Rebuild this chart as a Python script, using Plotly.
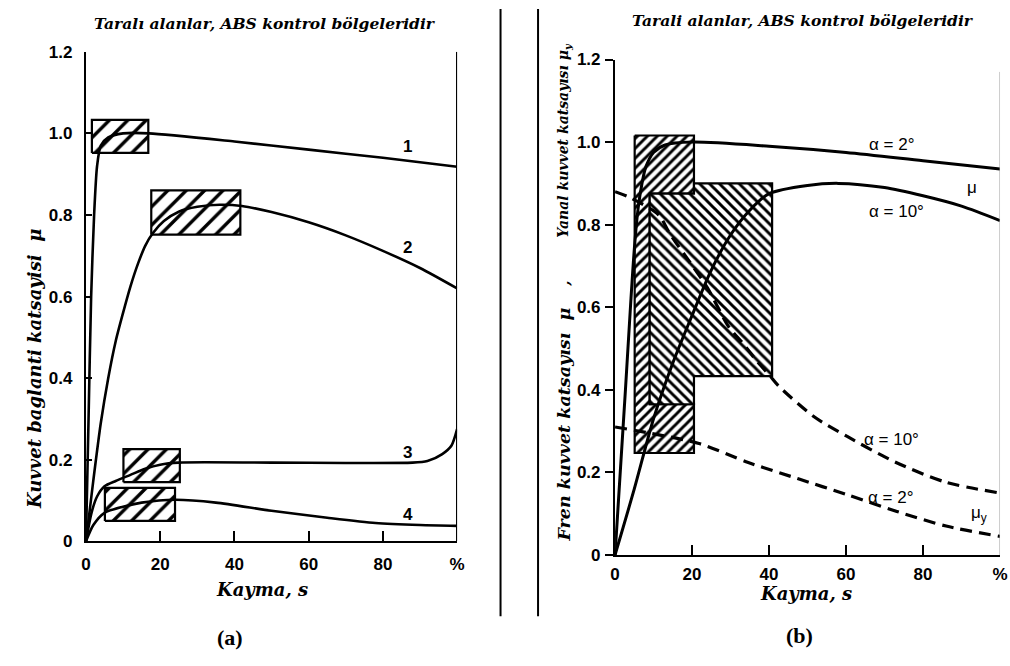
import plotly.graph_objects as go

W, H = 1010, 666

# ---------------- data: panel (a) ----------------
s_c1 = [0, 0.7, 1.4, 2.2, 3, 4, 6, 10, 17, 40, 60, 80, 100]
mu_c1 = [0, 0.30, 0.60, 0.80, 0.92, 0.97, 0.99, 1.0, 1.0, 0.98, 0.96, 0.94, 0.918]
s_c2 = [0, 2, 4, 6, 8, 10, 12, 14, 16, 18, 21, 25, 30, 36, 42, 50, 60, 70, 80, 90, 100]
mu_c2 = [0, 0.15, 0.29, 0.40, 0.49, 0.56, 0.625, 0.68, 0.725, 0.755, 0.785, 0.808, 0.82,
         0.825, 0.822, 0.807, 0.782, 0.75, 0.712, 0.67, 0.62]
s_c3 = [0, 1.5, 3, 5, 8, 12, 16, 20, 25, 50, 88, 92, 96, 98.5, 100]
mu_c3 = [0, 0.07, 0.11, 0.135, 0.148, 0.163, 0.178, 0.188, 0.193, 0.193, 0.193, 0.197, 0.214,
         0.235, 0.275]
s_c4 = [0, 2, 5, 10, 15, 24, 35, 50, 65, 78, 90, 100]
mu_c4 = [0, 0.04, 0.07, 0.085, 0.095, 0.102, 0.095, 0.075, 0.058, 0.045, 0.04, 0.038]
curve_labels_a = ["1", "2", "3", "4"]
label_s_a = [86.7, 86.7, 86.7, 86.7]
label_mu_a = [0.967, 0.721, 0.217, 0.067]

# ABS boxes (a): slip from/to, mu from/to
box_s0 = [1.6, 17.6, 10.1, 5.1]
box_s1 = [16.8, 41.6, 25.3, 24.0]
box_m0 = [0.952, 0.752, 0.145, 0.05]
box_m1 = [1.033, 0.86, 0.226, 0.131]

# ---------------- data: panel (b) ----------------
s_mu2 = [0, 2.7, 4, 5, 6, 7, 8, 10, 13, 20, 40, 60, 80, 100]
mu_mu2 = [0, 0.40, 0.60, 0.74, 0.84, 0.90, 0.94, 0.975, 0.993, 1.0, 0.99, 0.975, 0.955, 0.935]
s_mu10 = [0, 5, 10, 15, 20, 25, 30, 35, 40, 50, 58, 70, 80, 90, 100]
mu_mu10 = [0, 0.16, 0.33, 0.465, 0.58, 0.69, 0.775, 0.835, 0.875, 0.895, 0.9, 0.89, 0.87,
           0.845, 0.81]
s_y10 = [0, 4, 11.3, 14.1, 20.5, 24, 29.5, 33, 37, 40.3, 42.4, 51.8, 60.3, 73, 86, 100]
mu_y10 = [0.88, 0.865, 0.824, 0.78, 0.695, 0.647, 0.553, 0.515, 0.468, 0.433, 0.41, 0.334,
          0.287, 0.224, 0.176, 0.15]
s_y2 = [0, 9, 21.8, 34.6, 47.4, 60.3, 73, 86, 100]
mu_y2 = [0.31, 0.295, 0.27, 0.224, 0.185, 0.146, 0.106, 0.07, 0.045]

# ABS regions (b)
reg1_s = [5.1, 20.5, 20.5, 9, 9, 20.5, 20.5, 5.1, 5.1]
reg1_mu = [1.016, 1.016, 0.875, 0.875, 0.365, 0.365, 0.247, 0.247, 1.016]
reg2_s = [9, 20.5, 20.5, 40.8, 40.8, 20.5, 20.5, 9, 9]
reg2_mu = [0.875, 0.875, 0.9, 0.9, 0.433, 0.433, 0.365, 0.365, 0.875]

labels_b = ["α = 2°", "μ", "α = 10°", "α = 10°", "α = 2°", "μ<sub>y</sub>"]
label_s_b = [71.8, 92.8, 73, 71.8, 71.5, 94.6]
label_mu_b = [0.995, 0.89, 0.833, 0.28, 0.139, 0.099]

x_ticks = [0, 20, 40, 60, 80, 100]
x_ticktext = ["0", "20", "40", "60", "80", "%"]
y_ticks = [0, 0.2, 0.4, 0.6, 0.8, 1.0, 1.2]
y_ticktext = ["0", "0.2", "0.4", "0.6", "0.8", "1.0", "1.2"]


def PX(x):
    return x / W


def PY(y):
    return 1 - y / H


fig = go.Figure()

# hatched boxes, panel (a)
for a0, a1, m0, m1 in zip(box_s0, box_s1, box_m0, box_m1):
    fig.add_trace(go.Scatter(
        x=[a0, a1, a1, a0, a0], y=[m0, m0, m1, m1, m0],
        mode="lines", fill="toself", fillcolor="white",
        fillpattern=dict(shape="/", fgcolor="black", bgcolor="white", size=13,
                         solidity=0.26, fgopacity=1),
        line=dict(color="black", width=2.2), xaxis="x", yaxis="y",
        showlegend=False, hoverinfo="skip"))

# curves, panel (a)
for sx, my in [(s_c1, mu_c1), (s_c2, mu_c2), (s_c3, mu_c3), (s_c4, mu_c4)]:
    fig.add_trace(go.Scatter(x=sx, y=my, mode="lines",
                             line=dict(color="black", width=2.6, shape="spline", smoothing=0.7),
                             xaxis="x", yaxis="y", showlegend=False))

# hatched regions, panel (b)
fig.add_trace(go.Scatter(
    x=reg1_s, y=reg1_mu, mode="lines", fill="toself", fillcolor="white",
    fillpattern=dict(shape="/", fgcolor="black", bgcolor="white", size=7, solidity=0.42,
                     fgopacity=1),
    line=dict(color="black", width=2.2), xaxis="x2", yaxis="y2",
    showlegend=False, hoverinfo="skip"))
fig.add_trace(go.Scatter(
    x=reg2_s, y=reg2_mu, mode="lines", fill="toself", fillcolor="white",
    fillpattern=dict(shape="\\", fgcolor="black", bgcolor="white", size=7, solidity=0.42,
                     fgopacity=1),
    line=dict(color="black", width=2.2), xaxis="x2", yaxis="y2",
    showlegend=False, hoverinfo="skip"))

for sx, my in [(s_mu2, mu_mu2), (s_mu10, mu_mu10)]:
    fig.add_trace(go.Scatter(x=sx, y=my, mode="lines",
                             line=dict(color="black", width=3, shape="spline", smoothing=0.8),
                             xaxis="x2", yaxis="y2", showlegend=False))
for sx, my in [(s_y10, mu_y10), (s_y2, mu_y2)]:
    fig.add_trace(go.Scatter(x=sx, y=my, mode="lines",
                             line=dict(color="black", width=3.2, dash="12px,7px",
                                       shape="spline", smoothing=0.8),
                             xaxis="x2", yaxis="y2", showlegend=False))

tickfont = dict(family="Liberation Sans", size=17, color="black", weight="bold")
common_x = dict(range=[0, 100], tickvals=x_ticks, ticktext=x_ticktext, showgrid=False,
                zeroline=False, showline=True, linecolor="black", linewidth=2.2,
                ticks="inside", ticklen=10, tickwidth=1.6, tickcolor="black",
                tickfont=tickfont)
common_y = dict(range=[0, 1.2], tickvals=y_ticks, ticktext=y_ticktext, showgrid=False,
                zeroline=False, showline=True, linecolor="black", linewidth=2.2,
                tickwidth=1.6, tickcolor="black", tickfont=tickfont)

fig.update_layout(
    width=W, height=H, margin=dict(l=0, r=0, t=0, b=0),
    paper_bgcolor="white", plot_bgcolor="rgba(0,0,0,0)",
    xaxis=dict(domain=[PX(82), PX(458)], anchor="y", ticklabelstandoff=6, **common_x),
    yaxis=dict(domain=[PY(548), PY(44)], anchor="x", ticks="inside", ticklen=6,
               ticklabelstandoff=8, **common_y),
    xaxis2=dict(domain=[PX(618), PX(1008)], anchor="y2", ticklabelstandoff=3, **common_x),
    yaxis2=dict(domain=[PY(562), PY(52)], anchor="x2", ticks="outside", ticklen=8,
                ticklabelstandoff=1, **common_y),
)

shapes = []
# right frame lines
shapes.append(dict(type="line", xref="x", yref="y", x0=100, x1=100, y0=0, y1=1.2,
                   line=dict(color="black", width=2.2)))
shapes.append(dict(type="line", xref="x2", yref="y2", x0=100, x1=100, y0=0, y1=1.17,
                   line=dict(color="#9a9a9a", width=1)))
# separator lines in the middle
for xs in [502, 540]:
    shapes.append(dict(type="line", xref="paper", yref="paper", x0=PX(xs), x1=PX(xs),
                       y0=PY(0), y1=PY(625), line=dict(color="black", width=2)))
fig.update_layout(shapes=shapes)

ann = []
serif_bi = dict(family="DejaVu Serif", color="black", weight="bold", style="italic")
ann.append(dict(text="Taralı alanlar, ABS kontrol bölgeleridir", x=PX(263), y=PY(15),
                font=dict(size=15.5, **serif_bi)))
ann.append(dict(text="Tarali alanlar, ABS kontrol bölgeleridir", x=PX(808), y=PY(12),
                font=dict(size=15.5, **serif_bi)))
ann.append(dict(text="Kuvvet baglanti katsayisi  μ", x=PX(30), y=PY(371), textangle=-90,
                font=dict(size=18, **serif_bi)))
ann.append(dict(text="Kayma, s", x=PX(260), y=PY(598), font=dict(size=18, **serif_bi)))
ann.append(dict(text="Kayma, s", x=PX(811), y=PY(602), font=dict(size=18, **serif_bi)))
ann.append(dict(text="Fren kuvvet katsayısı  μ", x=PX(566), y=PY(428), textangle=-90,
                font=dict(size=17.5, **serif_bi)))
ann.append(dict(text=",", x=PX(566), y=PY(283), textangle=-90,
                font=dict(size=15, **serif_bi)))
ann.append(dict(text="Yanal kuvvet katsayısı μ<sub>y</sub>", x=PX(566), y=PY(135),
                textangle=-90, font=dict(size=14, **serif_bi)))
ann.append(dict(text="(a)", x=PX(228), y=PY(647),
                font=dict(family="Liberation Serif", size=22, color="black", weight="bold")))
ann.append(dict(text="(b)", x=PX(805), y=PY(645),
                font=dict(family="Liberation Serif", size=22, color="black", weight="bold")))
for a in ann:
    a.update(xref="paper", yref="paper", showarrow=False, xanchor="center", yanchor="middle")

for t, sx, my in zip(curve_labels_a, label_s_a, label_mu_a):
    ann.append(dict(text=t, x=sx, y=my, xref="x", yref="y", showarrow=False,
                    font=dict(family="Liberation Sans", size=17, color="black", weight="bold")))
for t, sx, my in zip(labels_b, label_s_b, label_mu_b):
    ann.append(dict(text=t, x=sx, y=my, xref="x2", yref="y2", showarrow=False,
                    font=dict(family="Liberation Sans", size=17, color="black")))
fig.update_layout(annotations=ann)

fig.write_html("out.html")
